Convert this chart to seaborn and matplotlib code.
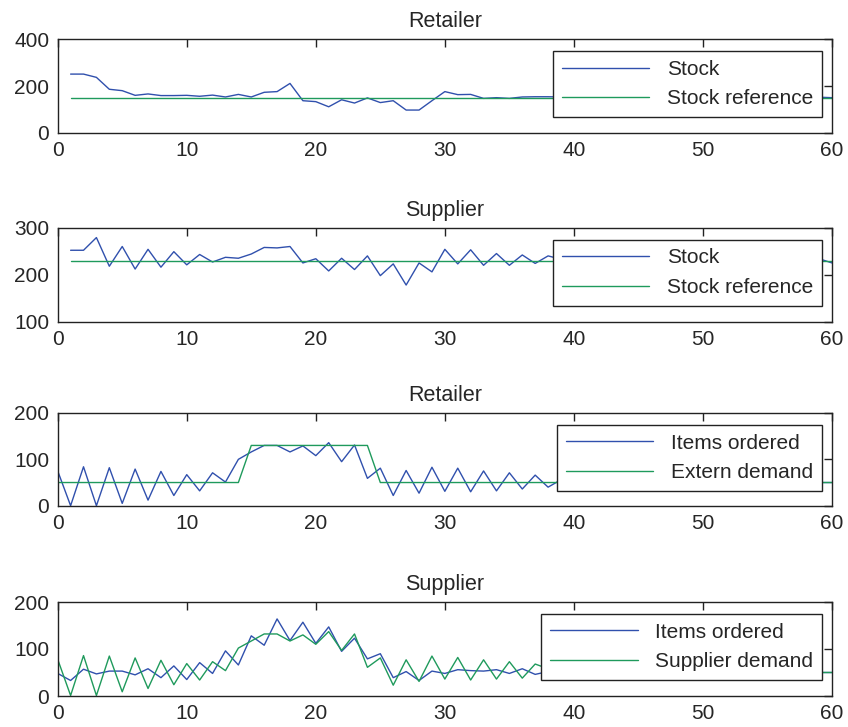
import numpy as np
import pandas as pd
import matplotlib
matplotlib.use("Agg")
import matplotlib.pyplot as plt
import seaborn as sns

# time axis for each panel
t_stock = list(range(1, 61))
t_orders = list(range(0, 61))

# Retailer stock (values after t=38 sit behind the legend -> estimated)
retailer_stock = [251, 251, 237, 186, 180, 160, 166, 159, 159, 160,
                  156, 161, 153, 164, 153, 173, 176, 211, 137, 133,
                  111, 141, 127, 149, 129, 137, 97, 97, 137, 176,
                  163, 164, 147, 150, 147, 153, 154, 154, 153, 152,
                  151, 152, 150, 151, 150, 151, 150, 150, 151, 150,
                  150, 151, 150, 150, 151, 150, 150, 151, 152, 150]
retailer_ref = [150] * 60

# Supplier stock
supplier_stock = [252, 252, 279, 218, 260, 212, 254, 216, 249, 221,
                  243, 227, 237, 235, 244, 258, 257, 260, 225, 234,
                  208, 235, 211, 240, 198, 223, 178, 225, 206, 254,
                  223, 253, 220, 245, 220, 242, 224, 240, 233, 238,
                  226, 236, 227, 235, 228, 234, 229, 233, 229, 232,
                  229, 232, 230, 231, 229, 231, 230, 232, 234, 225]
supplier_ref = [230] * 60

# Retailer orders vs external demand
retailer_orders = [75, 0, 84, 0, 82, 5, 79, 12, 74, 22,
                   67, 32, 71, 51, 100, 116, 130, 130, 116, 129,
                   108, 136, 95, 131, 59, 81, 22, 76, 27, 83,
                   31, 81, 30, 75, 32, 71, 36, 66, 40, 56,
                   60, 44, 56, 45, 54, 47, 53, 48, 52, 48,
                   52, 49, 51, 49, 51, 50, 50, 50, 50, 50, 50]
extern_demand = [50] * 15 + [130] * 10 + [50] * 36

# Supplier orders vs supplier demand
supplier_orders = [48, 33, 57, 47, 53, 53, 45, 58, 39, 64,
                   35, 71, 48, 96, 66, 128, 108, 164, 118, 157,
                   112, 147, 95, 123, 79, 90, 39, 52, 33, 53,
                   48, 56, 54, 53, 56, 48, 58, 46, 52, 50,
                   51, 50, 52, 49, 51, 50, 50, 51, 50, 50,
                   50, 50, 50, 50, 50, 50, 50, 50, 50, 50, 50]
supplier_demand = [78, 1, 86, 1, 85, 9, 81, 16, 76, 24,
                   69, 34, 73, 54, 102, 117, 132, 132, 117, 130,
                   110, 137, 97, 132, 61, 81, 23, 77, 31, 85,
                   36, 82, 34, 77, 36, 73, 38, 68, 58, 45,
                   60, 44, 56, 46, 54, 47, 53, 48, 52, 48,
                   52, 49, 51, 49, 51, 50, 50, 50, 50, 50, 50]

panels = [
    ("Retailer", t_stock, retailer_stock, retailer_ref, "Stock", "Stock reference", (0, 400), [0, 200, 400]),
    ("Supplier", t_stock, supplier_stock, supplier_ref, "Stock", "Stock reference", (100, 300), [100, 200, 300]),
    ("Retailer", t_orders, retailer_orders, extern_demand, "Items ordered", "Extern demand", (0, 200), [0, 100, 200]),
    ("Supplier", t_orders, supplier_orders, supplier_demand, "Items ordered", "Supplier demand", (0, 200), [0, 100, 200]),
]

sns.set_style("white")
plt.rcParams["font.family"] = ["Liberation Sans", "DejaVu Sans"]
plt.rcParams["font.size"] = 15

blue = "#3050ad"
green = "#1f9a5c"

W, H = 848, 727
fig = plt.figure(figsize=(W / 100, H / 100), dpi=100)

# axes boxes in pixels: (top, bottom)
boxes = [(39.3, 132.7), (227.7, 321.7), (413, 505.7), (602, 696)]
left_px, right_px = 57.7, 832

for (title, t, a, b, la, lb, ylim, yticks), (top, bot) in zip(panels, boxes):
    ax = fig.add_axes([left_px / W, 1 - bot / H, (right_px - left_px) / W, (bot - top) / H])
    df = pd.DataFrame({"t": t, la: a, lb: b})
    sns.lineplot(data=df, x="t", y=la, ax=ax, color=blue, linewidth=1.0, label=la)
    sns.lineplot(data=df, x="t", y=lb, ax=ax, color=green, linewidth=1.0, label=lb)
    ax.set_xlim(0, 60)
    ax.set_ylim(*ylim)
    ax.set_xticks(range(0, 61, 10))
    ax.set_yticks(yticks)
    ax.set_xlabel("")
    ax.set_ylabel("")
    ax.set_title(title, fontsize=15.5, pad=8.5)
    ax.tick_params(direction="in", length=6, width=1, top=True, right=True,
                   labelsize=15, pad=6, color="#222222")
    for s in ax.spines.values():
        s.set_color("#222222")
        s.set_linewidth(1.0)
    h = bot - top
    w = right_px - left_px
    leg = ax.legend(loc="upper right", bbox_to_anchor=(1 - 10 / w, 1 - 12 / h),
                    borderaxespad=0, fontsize=15, handlelength=4.2, handletextpad=0.85,
                    borderpad=0.42, labelspacing=0.5, fancybox=False, framealpha=1)
    leg.get_frame().set_edgecolor("#222222")
    leg.get_frame().set_linewidth(1.0)

fig.savefig("out.png", dpi=100)
